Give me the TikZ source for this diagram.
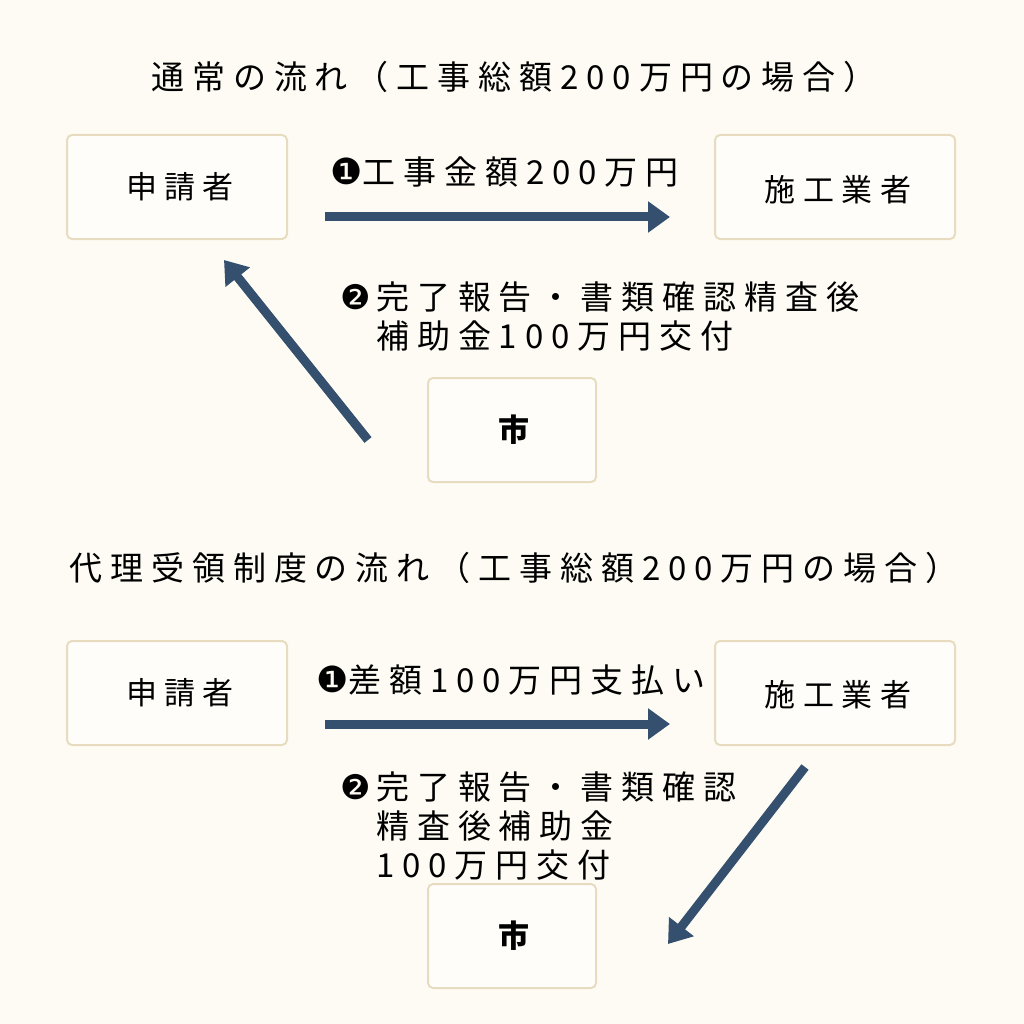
\documentclass[tikz,border=0pt]{standalone}
\usepackage{fontspec}
\setmainfont{Noto Sans CJK JP}[LetterSpace=24]
\newfontfamily\djfont{DejaVu Sans}
\usetikzlibrary{arrows.meta}
\definecolor{bg}{HTML}{FDFBF3}
\definecolor{bd}{HTML}{E8DCC0}
\definecolor{ar}{HTML}{34506E}
\newcommand{\cA}{{\djfont\fontsize{36}{36}\selectfont ❶}}
\newcommand{\cB}{{\djfont\fontsize{34}{36}\selectfont ❷}\,}
\tikzset{
 box/.style={draw=bd,line width=2pt,fill=white!50!bg,rounded corners=5pt},
 bl/.style={font=\fontsize{31}{34}\selectfont},
 flow/.style={draw=ar,line width=9pt,-{Triangle[length=22pt,width=30pt]}},
 lab/.style={font=\fontsize{33}{39}\selectfont,align=left,inner sep=0pt}
}
\begin{document}
\begin{tikzpicture}[x=1pt,y=-1pt]
\fill[bg] (0,0) rectangle (1024,1024);
\useasboundingbox (0,0) rectangle (1024,1024);
\node[lab] (t1) at (514,77) {通常の流れ（工事総額200万円の場合）};
\draw[box] (67,135) rectangle (287,239); \node[bl] (a1) at (180,187) {申請者};
\draw[box] (715,135) rectangle (955,239); \node[bl] (b1) at (838,190) {施工業者};
\draw[box] (428,378) rectangle (596,482); \node[bl,font=\fontsize{31}{34}\selectfont\bfseries] (c1) at (514,430) {市};
\coordinate (p1) at (325,217); \coordinate (q1) at (670,217);
\draw[flow] (p1) -- (q1);
\node[lab,anchor=west] (l1) at (330,172) {\cA 工事金額200万円};
\coordinate (p2) at (368,440); \coordinate (q2) at (224,260);
\draw[flow] (p2) -- (q2);
\node[lab,anchor=west] (l2) at (340,316) {\cB 完了報告・書類確認精査後\\\phantom{\cB}補助金100万円交付};

\node[lab] (t2) at (514,568) {代理受領制度の流れ（工事総額200万円の場合）};
\draw[box] (67,641) rectangle (287,745); \node[bl] (a2) at (180,693) {申請者};
\draw[box] (715,641) rectangle (955,745); \node[bl] (b2) at (838,695) {施工業者};
\draw[box] (428,884) rectangle (596,988); \node[bl,font=\fontsize{31}{34}\selectfont\bfseries] (c2) at (514,936) {市};
\coordinate (p3) at (325,724); \coordinate (q3) at (670,724);
\draw[flow] (p3) -- (q3);
\node[lab,anchor=west] (l3) at (316,680) {\cA 差額100万円支払い};
\coordinate (p4) at (805,767); \coordinate (q4) at (668,944);
\draw[flow] (p4) -- (q4);
\node[lab,anchor=west] (l4) at (340,826) {\cB 完了報告・書類確認\\\phantom{\cB}精査後補助金\\\phantom{\cB}100万円交付};
\end{tikzpicture}
\end{document}
